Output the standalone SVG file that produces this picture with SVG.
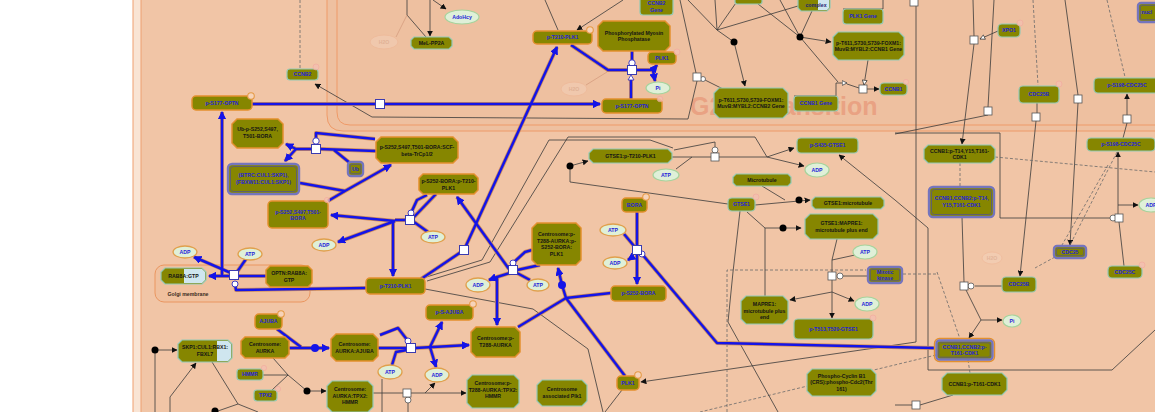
<svg xmlns="http://www.w3.org/2000/svg" width="1155" height="412" viewBox="0 0 1155 412">
<style>
text{font-family:"Liberation Sans",Arial,sans-serif;font-weight:bold;font-size:5.2px;text-anchor:middle}
.t{fill:#2323d8}
.tk{fill:#141414}
.pn{fill:#868600;stroke:#92c9b4;stroke-width:1.2}
.po{fill:#868600;stroke:#e3902e;stroke-width:1.5}
.cxo{fill:#868600;stroke:#7575bd;stroke-width:2.4}
.cxi{fill:none;stroke:#505098;stroke-width:0.7}
.lb{fill:#cfe6ef}
.sm{fill:#dff0d8;stroke:#a6d39c;stroke-width:1.2}
.smo{fill:#dff0d8;stroke:#e0a04c;stroke-width:1.3}
.fade{opacity:0.3}
.k{fill:none;stroke:#3a3a3a;stroke-width:0.8}
.ka{marker-end:url(#ak)}
.kh{marker-end:url(#ah)}
.d{fill:none;stroke:#6a6a6a;stroke-width:0.8;stroke-dasharray:3 2}
.a{marker-end:url(#ab)}
.halo{fill:none;stroke:#cf8d5a;stroke-width:4;stroke-linejoin:round}
.blue{fill:none;stroke:#1414e8;stroke-width:2.5;stroke-linejoin:round}
.rs{fill:#fff;stroke:#3b3bb0;stroke-width:1}
.rk{fill:#fff;stroke:#555;stroke-width:0.8}
.cc{fill:#fff;stroke:#2a2ac0;stroke-width:0.9}
.ck{fill:#fff;stroke:#555;stroke-width:0.8}
.ic{fill:#f6d3b9;stroke:#e59a45;stroke-width:1.1}
.icf{fill:#f4c0b0;stroke:#f2a9a0;stroke-width:0.8;opacity:0.8}
</style>
<defs>
<marker id="ab" viewBox="0 0 10 10" refX="9" refY="5" markerWidth="8" markerHeight="8" markerUnits="userSpaceOnUse" orient="auto"><path d="M0,0 L10,5 L0,10 z" fill="#1414e8"/></marker>
<marker id="ak" viewBox="0 0 10 10" refX="9" refY="5" markerWidth="6" markerHeight="6" markerUnits="userSpaceOnUse" orient="auto"><path d="M0,0 L10,5 L0,10 z" fill="#111"/></marker>
<marker id="ah" viewBox="0 0 10 10" refX="9" refY="5" markerWidth="6" markerHeight="6" markerUnits="userSpaceOnUse" orient="auto"><path d="M1,1 L9,5 L1,9 z" fill="#fff" stroke="#333" stroke-width="1.2"/></marker>
<g id="bp">
<path d="M222,276 V112" class="a"/>
<path d="M231,276 H209" class="a"/>
<path d="M231,273 L194,257" class="a"/>
<path d="M246,259 L237,272"/>
<path d="M266,276 H238"/>
<path d="M235,284 L236,290 L366,288"/>
<path d="M252,104 H376"/>
<path d="M384,104 H600" class="a"/>
<path d="M376,151 L320,149"/>
<path d="M312,149 H296 L286,144" class="a"/>
<path d="M296,149 L285,161" class="a"/>
<path d="M350,163 L334,150"/>
<path d="M316,141 V133 L375,139"/>
<path d="M328,201 L345,191 L391,165" class="a"/>
<path d="M300,183 L345,191"/>
<path d="M436,194 L414,217"/>
<path d="M428,232 L414,222"/>
<path d="M406,220 H395"/>
<path d="M395,221 L331,215" class="a"/>
<path d="M395,221 L338,242" class="a"/>
<path d="M393,221 V276" class="a"/>
<path d="M411,213 L417,200 L427,195"/>
<path d="M464,250 L557,47" class="a"/>
<path d="M464,250 L421,279"/>
<path d="M540,265 L517,270"/>
<path d="M513,263 L525,252 L532,250"/>
<path d="M509,269 L457,197" class="a"/>
<path d="M510,273 L497,277 V325" class="a"/>
<path d="M497,277 L489,280" class="a"/>
<path d="M530,280 L517,273"/>
<path d="M518,327 L566,298"/>
<path d="M611,293 L566,298"/>
<path d="M625,376 L566,298"/>
<path d="M566,298 L562,285 L558,268" class="a"/>
<path d="M637,212 V284" class="a"/>
<path d="M624,234 L634,246"/>
<path d="M634,256 L628,260" class="a"/>
<path d="M642,254 L717,343 L934,348"/>
<path d="M571,45 L608,70 H628"/>
<path d="M632,51 V63"/>
<path d="M636,70 H653 L657,65" class="a"/>
<path d="M653,70 L655,81" class="a"/>
<path d="M631,99 V78"/>
<path d="M277,329 L301,347"/>
<path d="M289,348 H329" class="a"/>
<path d="M378,348 H407"/>
<path d="M415,348 L469,345" class="a"/>
<path d="M430,347 L442,322" class="a"/>
<path d="M430,347 L436,367" class="a"/>
<path d="M392,365 L396,352 L407,350"/>
<path d="M408,341 L398,328 L380,335"/>
</g>
</defs>

<!-- compartments -->
<g id="compartments">
<rect x="0" y="0" width="1155" height="412" fill="#ffffff"/>
<rect x="133" y="-10" width="1040" height="440" fill="#f9e4d4" stroke="#f0a070" stroke-width="1"/>
<rect x="141" y="-10" width="1030" height="440" fill="#f1c5a6" stroke="#eea070" stroke-width="1"/>
<path d="M327,-5 V115 Q327,131 343,131 H1160 V-5 Z" fill="#eec0a0" stroke="#ee9a68" stroke-width="1"/>
<path d="M337,-5 V112 Q337,125 350,125 H1160" fill="none" stroke="#ee9a68" stroke-width="1"/>
<text x="690" y="115" style="font-size:25px;text-anchor:start;fill:#e9a283">G2/M Transition</text>
<rect x="155" y="265" width="155" height="37" rx="9" fill="#f0c09e" stroke="#ea9660" stroke-width="1"/>
<text class="tk" x="188" y="296" style="fill:#3a2a20">Golgi membrane</text>
</g>

<!-- connectors -->
<g id="connectors">
<path class="d" d="M300,0 V68"/>
<path class="k ka" d="M688,119 L372,117 L315,84"/>
<path class="k" d="M680,0 L696,73"/>
<path class="k" d="M697,81 L688,119"/>
<path class="k" d="M723,89 L705,80"/>
<path class="k" d="M688,0 L717,30 M715,0 L717,30 M738,0 L717,30 M717,30 L798,6"/>
<path class="k ka" d="M717,30 L734,42 L745,86"/>
<path class="k" d="M758,4 L800,37 M780,0 L800,37 M812,11 L800,37 M800,37 L838,82"/>
<path class="k ka" d="M800,37 L831,42"/>
<path class="k" d="M843,9 H883 V0"/>
<path class="k" d="M794,96 H836 V83"/>
<path class="k kh" d="M836,83 H847"/>
<path class="k" d="M847,84 L859,88"/>
<path class="k ka" d="M867,89 H879"/>
<path class="k kh" d="M868,60 L864,85"/>
<path class="k" d="M407,0 V15 L426,37"/>
<path class="k ka" d="M430,0 V36"/>
<path class="k ka" d="M433,0 L446,9"/>
<path d="M396,37 L407,15" fill="none" stroke="#dba486" stroke-width="1"/>
<path class="k" d="M545,0 L558,30"/>
<path class="k ka" d="M623,0 L577,30"/>
<path d="M586,85 L607,72" fill="none" stroke="#dba486" stroke-width="1"/>
<path class="k ka" d="M916,5 V342 L641,382"/>
<path class="k" d="M973,0 L974,36"/>
<path class="k ka" d="M974,44 L962,144"/>
<path class="k kh" d="M998,31 L980,39"/>
<path class="k" d="M994,0 L988,107"/>
<path class="k" d="M988,115 L895,134"/>
<path class="k" d="M895,133 H1000 V218 H1110"/>
<path class="d" d="M1033,0 L1038,85"/>
<path class="k" d="M1037,103 V113"/>
<path class="k ka" d="M1036,121 L1020,276"/>
<path class="k" d="M1065,0 L1078,95"/>
<path class="k ka" d="M1078,103 L1070,245"/>
<path class="d" d="M1107,0 L1125,77"/>
<path class="k ka" d="M1127,115 V94"/>
<path class="k" d="M1127,123 L1123,138"/>
<path class="k ka" d="M1118,214 V152"/>
<path class="k ka" d="M1118,205 H1138"/>
<path class="k" d="M1119,222 L1124,266"/>
<path class="d" d="M995,157 L1155,172"/>
<path class="d" d="M960,163 V187"/>
<path class="d" d="M1117,152 L1070,245"/>
<path class="d" d="M1108,165 L1062,245"/>
<path class="d" d="M1055,257 L1035,268"/>
<path class="k ka" d="M928,228 L895,200 L839,155"/>
<path class="k" d="M928,228 V370 H1112 L1155,330"/>
<path class="k" d="M962,217 L964,282"/>
<path class="k" d="M975,286 H1002"/>
<path class="k ka" d="M966,290 L981,320 H1002"/>
<path class="k ka" d="M981,320 L969,338"/>
<path class="d" d="M937,272 L960,339"/>
<path class="d" d="M898,274 H938"/>
<path class="d" d="M936,355 L700,412"/>
<path class="d" d="M968,360 L970,373"/>
<path class="k" d="M895,405 H912 M920,405 L953,395"/>
<path class="d" d="M727,412 V270 H866"/>
<path class="k" d="M740,211 L733,272 L728,322 L778,412"/>
<path class="k ka" d="M747,212 L765,228 H801"/>
<path class="k" d="M765,228 V296"/>
<path class="k ka" d="M755,205 L810,200"/>
<path class="k" d="M762,186 L785,200"/>
<path class="k ka" d="M728,204 L570,182 V166 L588,161"/>
<path class="k" d="M423,278 L482,260 L549,140 H650 L673,148"/>
<path class="k" d="M427,281 L490,262 L568,137 H755 L767,157"/>
<path class="k" d="M672,157 H711"/>
<path class="k" d="M676,169 L692,157"/>
<path class="k ka" d="M719,157 H767 L794,148"/>
<path class="k ka" d="M767,157 L804,166"/>
<path class="k" d="M715,147 V142 L674,150"/>
<path class="k" d="M837,239 L832,260 V272"/>
<path class="k" d="M855,255 L832,260"/>
<path class="k" d="M843,276 H868"/>
<path class="k ka" d="M832,280 V292 L790,300"/>
<path class="k ka" d="M832,292 L854,301"/>
<path class="k ka" d="M832,292 V318"/>
<path class="k" d="M425,289 L533,309 L588,349 L603,412"/>
<path class="k" d="M622,390 L605,412"/>
<path class="k ka" d="M155,412 V350 H177"/>
<path class="k ka" d="M170,412 V397 L196,363"/>
<path class="k" d="M212,362 L238,404 L258,412 M215,412 L238,404"/>
<path class="k" d="M263,375 H288 M272,390 L288,375 M273,358 L288,375"/>
<path class="k ka" d="M288,375 L307,391 H326"/>
<path class="k" d="M373,393 H403"/>
<path class="k ka" d="M411,393 H466"/>
<path class="k ka" d="M425,393 L435,383"/>
<path class="k" d="M408,403 V412"/>
<path class="k" d="M382,379 V412"/>
<use href="#bp" class="halo"/>
<use href="#bp" class="blue"/>
<polygon points="628,80 634,80 631,75" fill="#fff" stroke="#2a2ac0" stroke-width="0.8"/>
<!-- black association dots -->
<circle cx="734" cy="42" r="3.5" fill="#000"/>
<circle cx="800" cy="37" r="3.5" fill="#000"/>
<circle cx="570" cy="166" r="3.5" fill="#000"/>
<circle cx="799" cy="200" r="3.5" fill="#000"/>
<circle cx="783" cy="228" r="3.5" fill="#000"/>
<circle cx="155" cy="350" r="3.5" fill="#000"/>
<circle cx="307" cy="391" r="3.5" fill="#000"/>
<circle cx="215" cy="411" r="3.5" fill="#000"/>
<circle cx="315" cy="348" r="4" fill="#1414e8"/>
<circle cx="562" cy="285" r="4" fill="#1414e8"/>
<!-- catalyst circles -->
<circle class="cc" cx="316" cy="141" r="3.2"/>
<circle class="cc" cx="411" cy="213" r="3"/>
<circle class="cc" cx="513" cy="263" r="3"/>
<circle class="cc" cx="642" cy="254" r="3"/>
<circle class="cc" cx="632" cy="63" r="3.2"/>
<circle class="cc" cx="235" cy="284" r="3"/>
<circle class="cc" cx="408" cy="341" r="3"/>
<circle class="ck" cx="703" cy="79" r="2.5"/>
<circle class="ck" cx="840" cy="276" r="3"/>
<circle class="ck" cx="971" cy="286" r="3"/>
<circle class="ck" cx="1113" cy="218" r="3"/>
<circle class="ck" cx="408" cy="400" r="3"/>
<circle class="ck" cx="715" cy="150" r="3"/>
<!-- reaction squares -->
<rect class="rs" x="375.5" y="99.5" width="9" height="9"/>
<rect class="rs" x="311.5" y="144.5" width="9" height="9"/>
<rect class="rs" x="405.5" y="215.5" width="9" height="9"/>
<rect class="rs" x="459.5" y="245.5" width="9" height="9"/>
<rect class="rs" x="508.5" y="265.5" width="9" height="9"/>
<rect class="rs" x="229.5" y="270.5" width="9" height="9"/>
<rect class="rs" x="406.5" y="343.5" width="9" height="9"/>
<rect class="rs" x="627.5" y="65.5" width="9" height="9"/>
<rect class="rs" x="632.5" y="245.5" width="9" height="9"/>
<rect class="rk" x="693" y="73" width="8" height="8"/>
<rect class="rk" x="859" y="85" width="8" height="8"/>
<rect class="rk" x="970" y="36" width="8" height="8"/>
<rect class="rk" x="984" y="107" width="8" height="8"/>
<rect class="rk" x="1032" y="113" width="8" height="8"/>
<rect class="rk" x="1074" y="95" width="8" height="8"/>
<rect class="rk" x="1123" y="115" width="8" height="8"/>
<rect class="rk" x="1115" y="214" width="8" height="8"/>
<rect class="rk" x="960" y="282" width="8" height="8"/>
<rect class="rk" x="912" y="401" width="8" height="8"/>
<rect class="rk" x="711" y="153" width="8" height="8"/>
<rect class="rk" x="828" y="272" width="8" height="8"/>
<rect class="rk" x="403" y="389" width="8" height="8"/>
<rect class="rk" x="910" y="-2" width="8" height="8"/>
</g>

<!-- small molecules -->
<g id="sm-adohcy"><ellipse class="sm" cx="462" cy="17" rx="17" ry="7"/><text class="t" x="462" y="18.8">AdoHcy</text></g>
<g id="sm-h2o-1" class="fade"><ellipse cx="384" cy="42" rx="14" ry="7" fill="#f6dccb" stroke="#f0b090"/><text x="384" y="43.8" style="fill:#c09080">H2O</text></g>
<g id="sm-h2o-2" class="fade"><ellipse cx="574" cy="89" rx="13" ry="7" fill="#f6dccb" stroke="#f0b090"/><text x="574" y="90.8" style="fill:#c09080">H2O</text></g>
<g id="sm-h2o-3" class="fade"><ellipse cx="992" cy="258" rx="10" ry="6" fill="#f6dccb" stroke="#f0b090"/><text x="992" y="259.8" style="fill:#c09080">H2O</text></g>
<g id="sm-pi-1"><ellipse class="sm" cx="658" cy="88" rx="12" ry="6"/><text class="t" x="658" y="89.8">Pi</text></g>
<g id="sm-pi-2"><ellipse class="sm" cx="1012" cy="321" rx="9" ry="6"/><text class="t" x="1012" y="322.8">Pi</text></g>
<g id="sm-atp-1"><ellipse class="sm" cx="666" cy="175" rx="13" ry="6"/><text class="t" x="666" y="176.8">ATP</text></g>
<g id="sm-adp-1"><ellipse class="sm" cx="817" cy="170" rx="12" ry="7"/><text class="t" x="817" y="171.8">ADP</text></g>
<g id="sm-atp-2"><ellipse class="sm" cx="865" cy="252" rx="12" ry="7"/><text class="t" x="865" y="253.8">ATP</text></g>
<g id="sm-adp-2"><ellipse class="sm" cx="867" cy="304" rx="12" ry="7"/><text class="t" x="867" y="305.8">ADP</text></g>
<g id="sm-adp-3"><ellipse class="sm" cx="1151" cy="205" rx="12" ry="7"/><text class="t" x="1151" y="206.8">ADP</text></g>
<g id="sm-atp-3"><ellipse class="smo" cx="613" cy="230" rx="13" ry="6"/><text class="t" x="613" y="231.8">ATP</text></g>
<g id="sm-adp-4"><ellipse class="smo" cx="615" cy="263" rx="12" ry="6"/><text class="t" x="615" y="264.8">ADP</text></g>
<g id="sm-atp-4"><ellipse class="smo" cx="433" cy="237" rx="12" ry="6"/><text class="t" x="433" y="238.8">ATP</text></g>
<g id="sm-adp-5"><ellipse class="smo" cx="324" cy="245" rx="12" ry="6"/><text class="t" x="324" y="246.8">ADP</text></g>
<g id="sm-adp-6"><ellipse class="smo" cx="185" cy="252" rx="12" ry="6"/><text class="t" x="185" y="253.8">ADP</text></g>
<g id="sm-atp-5"><ellipse class="smo" cx="250" cy="254" rx="12" ry="6"/><text class="t" x="250" y="255.8">ATP</text></g>
<g id="sm-adp-7"><ellipse class="smo" cx="478" cy="285" rx="12" ry="7"/><text class="t" x="478" y="286.8">ADP</text></g>
<g id="sm-atp-6"><ellipse class="smo" cx="538" cy="285" rx="11" ry="6"/><text class="t" x="538" y="286.8">ATP</text></g>
<g id="sm-atp-7"><ellipse class="smo" cx="390" cy="372" rx="12" ry="7"/><text class="t" x="390" y="373.8">ATP</text></g>
<g id="sm-adp-8"><ellipse class="smo" cx="437" cy="375" rx="12" ry="7"/><text class="t" x="437" y="376.8">ADP</text></g>

<!-- proteins and genes -->
<g id="n-ccnb2"><rect class="pn" x="287" y="69" width="31" height="11" rx="3"/><text class="t" x="302.5" y="76.3">CCNB2</text></g>
<g id="n-ps177-optn-golgi"><rect class="po" x="192" y="96" width="60" height="14" rx="4"/><text class="t" x="222" y="104.8">p-S177-OPTN</text></g>
<g id="n-pt210-plk1-a"><rect class="po" x="533" y="31" width="59" height="13" rx="4"/><text class="t" x="562.5" y="39.3">p-T210-PLK1</text></g>
<g id="n-plk1-a"><rect class="po" x="648" y="52" width="28" height="12" rx="4"/><text class="t" x="662" y="59.8">PLK1</text></g>
<g id="n-ps177-optn"><rect class="po" x="602" y="99" width="60" height="14" rx="4"/><text class="t" x="632" y="107.8">p-S177-OPTN</text></g>
<g id="n-ccnb2-gene"><rect class="pn" x="640" y="-3" width="33" height="18" rx="3"/><text class="t" x="656.5" y="5">CCNB2</text><text class="t" x="656.5" y="11.5">Gene</text></g>
<g id="n-plk1-gene"><rect class="pn" x="843" y="9" width="40" height="15" rx="3"/><text class="t" x="863" y="18.3">PLK1 Gene</text></g>
<g id="n-ccnb1-gene"><rect class="pn" x="794" y="96" width="44" height="15" rx="3"/><text class="t" x="816" y="105.3">CCNB1 Gene</text></g>
<g id="n-ccnb1"><rect class="pn" x="880" y="83" width="27" height="12" rx="4"/><text class="t" x="893.5" y="90.8">CCNB1</text></g>
<g id="n-xpo1"><rect class="pn" x="998" y="24" width="22" height="13" rx="4"/><text class="t" x="1009" y="32.3">XPO1</text></g>
<g id="n-cdc25b-a"><rect class="pn" x="1019" y="86" width="40" height="17" rx="4"/><text class="t" x="1039" y="96.3">CDC25B</text></g>
<g id="n-ps198-cdc25c-a"><rect class="pn" x="1094" y="78" width="66" height="15" rx="4"/><text class="t" x="1127" y="87.3">p-S198-CDC25C</text></g>
<g id="n-ps198-cdc25c-b"><rect class="pn" x="1087" y="138" width="68" height="13" rx="4"/><text class="t" x="1121" y="146.3">p-S198-CDC25C</text></g>
<g id="n-cdc25c"><rect class="pn" x="1108" y="266" width="34" height="12" rx="4"/><text class="t" x="1125" y="273.8">CDC25C</text></g>
<g id="n-cdc25b-b"><rect class="pn" x="1002" y="277" width="34" height="15" rx="4"/><text class="t" x="1019" y="286.3">CDC25B</text></g>
<g id="n-ps435-gtse1"><rect class="pn" x="797" y="138" width="61" height="15" rx="4"/><text class="t" x="827.5" y="147.3">p-S435-GTSE1</text></g>
<g id="n-gtse1"><rect class="pn" x="728" y="198" width="27" height="13" rx="4"/><text class="t" x="741.5" y="206.3">GTSE1</text></g>
<g id="n-pt513-gtse1"><rect class="pn" x="794" y="319" width="79" height="20" rx="4"/><text class="t" x="833.5" y="330.8">p-T513,T520-GTSE1</text></g>
<g id="n-bora"><rect class="po" x="622" y="198" width="25" height="14" rx="4"/><text class="t" x="634.5" y="206.8">BORA</text></g>
<g id="n-ps252-bora"><rect class="po" x="611" y="286" width="55" height="15" rx="4"/><text class="t" x="638.5" y="295.3">p-S252-BORA</text></g>
<g id="n-plk1-b"><rect class="po" x="617" y="376" width="22" height="14" rx="4"/><text class="t" x="628" y="384.8">PLK1</text></g>
<g id="n-ps-ajuba"><rect class="po" x="426" y="305" width="47" height="15" rx="4"/><text class="t" x="449.5" y="314.3">p-S-AJUBA</text></g>
<g id="n-p3-bora"><rect class="po" x="268" y="201" width="60" height="27" rx="4"/><text class="t" x="298" y="213.5">p-S252,S497,T501-</text><text class="t" x="298" y="220">BORA</text></g>
<g id="n-pt210-plk1-b"><rect class="po" x="366" y="278" width="59" height="16" rx="4"/><text class="t" x="395.5" y="287.8">p-T210-PLK1</text></g>
<g id="n-ajuba"><rect class="po" x="255" y="314" width="27" height="15" rx="4"/><text class="t" x="268.5" y="323.3">AJUBA</text></g>
<g id="n-hmmr"><rect class="pn" x="237" y="369" width="26" height="11" rx="3"/><text class="t" x="250" y="376.3">HMMR</text></g>
<g id="n-tpx2"><rect class="pn" x="254" y="390" width="23" height="11" rx="3"/><text class="t" x="265.5" y="397.3">TPX2</text></g>

<!-- complexes -->
<g id="c-mel-pp2a"><polygon class="pn" points="414,37 449,37 452,40 452,46 449,49 414,49 411,46 411,40"/><text class="tk" x="431.5" y="45">MeL-PP2A</text></g>
<g id="c-myosin-phosphatase"><polygon class="po" points="603,21 665,21 670,26 670,46 665,51 603,51 598,46 598,26"/><text class="tk" x="634" y="34.5">Phosphorylated Myosin</text><text class="tk" x="634" y="41">Phosphatase</text></g>
<g id="c-foxm1-ccnb1"><polygon class="pn" points="838,32 899,32 904,37 904,55 899,60 838,60 833,55 833,37"/><text class="tk" x="868.5" y="44.5">p-T611,S730,S739-FOXM1:</text><text class="tk" x="868.5" y="51">MuvB:MYBL2:CCNB1 Gene</text></g>
<g id="c-foxm1-ccnb2"><polygon class="pn" points="719,88 783,88 788,93 788,113 783,118 719,118 714,113 714,93"/><text class="tk" x="751" y="101.5">p-T611,S730,S739-FOXM1:</text><text class="tk" x="751" y="108">MuvB:MYBL2:CCNB2 Gene</text></g>
<g id="c-top-a"><rect class="pn" x="735" y="-5" width="27" height="9" rx="2"/></g>
<g id="c-top-complex"><polygon class="pn" points="801,-10 827,-10 830,-7 830,8 827,11 801,11 798,8 798,-7"/><polygon class="lb" points="818,-9 827,-9 829,-7 829,8 827,10 818,10"/><text x="816" y="7" style="fill:#1e1e70">complex</text></g>
<g id="c-ccnb1-pt14"><polygon class="pn" points="928,145 991,145 995,149 995,159 991,163 928,163 924,159 924,149"/><text class="tk" x="959.5" y="152.5">CCNB1:p-T14,Y15,T161-</text><text class="tk" x="959.5" y="159">CDK1</text></g>
<g id="c-ccnb1-pt161"><polygon class="pn" points="947,373 1002,373 1007,378 1007,390 1002,395 947,395 942,390 942,378"/><text class="tk" x="974.5" y="385.8">CCNB1:p-T161-CDK1</text></g>
<g id="c-gtse1-plk1"><polygon class="pn" points="593,149 668,149 672,153 672,159 668,163 593,163 589,159 589,153"/><text class="tk" x="630.5" y="157.8">GTSE1:p-T210-PLK1</text></g>
<g id="c-microtubule"><polygon class="pn" points="736,174 788,174 791,177 791,183 788,186 736,186 733,183 733,177"/><text class="tk" x="762" y="181.8">Microtubule</text></g>
<g id="c-gtse1-mt"><polygon class="pn" points="815,197 881,197 884,200 884,206 881,209 815,209 812,206 812,200"/><text class="tk" x="848" y="204.8">GTSE1:microtubule</text></g>
<g id="c-gtse1-mapre1"><polygon class="pn" points="810,214 873,214 878,219 878,234 873,239 810,239 805,234 805,219"/><text class="tk" x="841.5" y="225">GTSE1:MAPRE1:</text><text class="tk" x="841.5" y="231.5">microtubule plus end</text></g>
<g id="c-mapre1"><polygon class="pn" points="746,296 783,296 788,301 788,319 783,324 746,324 741,319 741,301"/><text class="tk" x="764.5" y="306">MAPRE1:</text><text class="tk" x="764.5" y="312.5">microtubule plus</text><text class="tk" x="764.5" y="319">end</text></g>
<g id="c-phospho-cyclin"><polygon class="pn" points="812,369 871,369 876,374 876,391 871,396 812,396 807,391 807,374"/><text class="tk" x="841.5" y="377.5">Phospho-Cyclin B1</text><text class="tk" x="841.5" y="384">(CRS):phospho-Cdc2(Thr</text><text class="tk" x="841.5" y="390.5">161)</text></g>
<g id="c-centrosome-plk1"><polygon class="pn" points="542,380 582,380 587,385 587,401 582,406 542,406 537,401 537,385"/><text class="tk" x="562" y="391">Centrosome</text><text class="tk" x="562" y="397.5">associated  Plk1</text></g>
<g id="c-cen-pt288-tpx2"><polygon class="pn" points="472,375 514,375 519,380 519,403 514,408 472,408 467,403 467,380"/><text class="tk" x="493" y="385">Centrosome:p-</text><text class="tk" x="493" y="391.5">T288-AURKA:TPX2:</text><text class="tk" x="493" y="398">HMMR</text></g>
<g id="c-cen-pt288"><polygon class="po" points="476,327 515,327 520,332 520,352 515,357 476,357 471,352 471,332"/><text class="tk" x="495.5" y="340">Centrosome:p-</text><text class="tk" x="495.5" y="346.5">T288-AURKA</text></g>
<g id="c-cen-bora-plk1"><polygon class="po" points="537,223 576,223 581,228 581,260 576,265 537,265 532,260 532,228"/><text class="tk" x="556.5" y="236">Centrosome:p-</text><text class="tk" x="556.5" y="242.5">T288-AURKA:p-</text><text class="tk" x="556.5" y="249">S252-BORA:</text><text class="tk" x="556.5" y="255.5">PLK1</text></g>
<g id="c-bora-plk1"><polygon class="po" points="423,174 474,174 478,178 478,190 474,194 423,194 419,190 419,178"/><text class="tk" x="448.5" y="183">p-S252-BORA:p-T210-</text><text class="tk" x="448.5" y="189.5">PLK1</text></g>
<g id="c-bora-scf"><polygon class="po" points="381,137 453,137 458,142 458,158 453,163 381,163 376,158 376,142"/><text class="tk" x="417" y="149">p-S252,S497,T501-BORA:SCF-</text><text class="tk" x="417" y="155.5">beta-TrCp1/2</text></g>
<g id="c-ub-bora"><polygon class="po" points="237,119 278,119 283,124 283,143 278,148 237,148 232,143 232,124"/><text class="tk" x="257.5" y="131">Ub-p-S252,S497,</text><text class="tk" x="257.5" y="137.5">T501-BORA</text></g>
<g id="c-optn-rab8a"><polygon class="po" points="270,266 308,266 312,270 312,283 308,287 270,287 266,283 266,270"/><text class="tk" x="289" y="275">OPTN:RAB8A:</text><text class="tk" x="289" y="281.5">GTP</text></g>
<g id="c-rab8a-gtp"><polygon class="pn" points="165,268 202,268 206,272 206,280 202,284 165,284 161,280 161,272"/><polygon class="lb" points="184,269 202,269 205,272 205,280 202,283 184,283"/><text class="tk" x="183.5" y="277.8">RAB8A:GTP</text></g>
<g id="c-cen-aurka"><polygon class="po" points="245,337 285,337 289,341 289,354 285,358 245,358 241,354 241,341"/><text class="tk" x="265" y="346">Centrosome:</text><text class="tk" x="265" y="352.5">AURKA</text></g>
<g id="c-cen-aurka-ajuba"><polygon class="po" points="336,334 373,334 378,339 378,356 373,361 336,361 331,356 331,339"/><text class="tk" x="354.5" y="346">Centrosome:</text><text class="tk" x="354.5" y="352.5">AURKA:AJUBA</text></g>
<g id="c-skp1-fbxl7"><polygon class="pn" points="182,340 228,340 232,344 232,358 228,362 182,362 178,358 178,344"/><polygon class="lb" points="217,341 228,341 231,344 231,358 228,361 217,361"/><text class="tk" x="205" y="349.3">SKP1:CUL1:RBX1:</text><text class="tk" x="205" y="355.8">FBXL7</text></g>
<g id="c-cen-aurka-tpx2"><polygon class="pn" points="332,381 368,381 373,386 373,407 368,412 332,412 327,407 327,386"/><text class="tk" x="350" y="391">Centrosome:</text><text class="tk" x="350" y="397.5">AURKA:TPX2:</text><text class="tk" x="350" y="404">HMMR</text></g>

<!-- entity sets -->
<g id="s-scf"><rect class="cxo" x="228" y="164" width="71" height="30" rx="4"/><rect class="cxi" x="230.5" y="166.5" width="66" height="25" rx="3"/><text class="t" x="263.5" y="177.3">(BTRC:CUL1:SKP1),</text><text class="t" x="263.5" y="183.8">(FBXW11:CUL1:SKP1)</text></g>
<g id="s-ub"><rect class="cxo" x="348" y="162" width="15" height="14" rx="3"/><rect class="cxi" x="350.3" y="164.3" width="10.4" height="9.4" rx="2"/><text class="t" x="355.5" y="170.8">Ub</text></g>
<g id="s-mitotic-kinase"><rect class="cxo" x="868" y="267" width="34" height="16" rx="3"/><rect class="cxi" x="870.3" y="269.3" width="29.4" height="11.4" rx="2"/><text class="t" x="885" y="274.3">Mitotic</text><text class="t" x="885" y="280">kinase</text></g>
<g id="s-ccnb-cdk1-pt14"><rect class="cxo" x="929" y="187" width="65" height="30" rx="4"/><rect class="cxi" x="931.5" y="189.5" width="60" height="25" rx="3"/><text class="t" x="961.5" y="200.3">CCNB1,CCNB2:p-T14,</text><text class="t" x="961.5" y="206.8">Y15,T161-CDK1</text></g>
<g id="s-cdc25"><rect class="cxo" x="1054" y="246" width="32" height="12" rx="3"/><rect class="cxi" x="1056.3" y="248.3" width="27.4" height="7.4" rx="2"/><text class="t" x="1070" y="253.8">CDC25</text></g>
<g id="s-ccnb-cdk1-pt161"><rect x="934.5" y="338.5" width="60" height="23" rx="5" fill="none" stroke="#e3902e" stroke-width="1.4"/><rect class="cxo" x="936.5" y="340.5" width="56" height="19" rx="3"/><rect class="cxi" x="938.8" y="342.8" width="51.4" height="14.4" rx="2"/><text class="t" x="964.5" y="348.8">CCNB1,CCNB2:p-</text><text class="t" x="964.5" y="355.3">T161-CDK1</text></g>
<g id="s-nucl"><rect class="cxo" x="1138" y="3" width="26" height="19" rx="3"/><rect class="cxi" x="1140.3" y="5.3" width="21.4" height="14.4" rx="2"/><text class="t" x="1141.5" y="14" style="text-anchor:start">nucl</text></g>

<!-- interactor badges -->
<g id="badges">
<circle class="ic" cx="251" cy="96" r="3.3"/>
<circle class="ic" cx="590" cy="30" r="3.3"/>
<circle class="icf" cx="677" cy="52" r="3"/>
<circle class="icf" cx="660" cy="99" r="2.8"/>
<circle class="ic" cx="646" cy="197" r="3.3"/>
<circle class="ic" cx="638" cy="375" r="3.3"/>
<circle class="ic" cx="473" cy="304" r="3.3"/>
<circle class="ic" cx="281" cy="314" r="3.3"/>
<circle class="icf" cx="327" cy="200" r="2.6"/>
<circle class="icf" cx="316" cy="67" r="3"/>
<circle class="icf" cx="1020" cy="23" r="3"/>
<circle class="icf" cx="1059" cy="84" r="3"/>
<circle class="icf" cx="756" cy="197" r="3"/>
<circle class="icf" cx="873" cy="318" r="3"/>
<circle class="icf" cx="1142" cy="265" r="3"/>
<circle class="icf" cx="264" cy="368" r="2.6"/>
<circle class="icf" cx="278" cy="389" r="2.6"/>
<circle class="icf" cx="906" cy="82" r="2.6"/>
</g>
</svg>
